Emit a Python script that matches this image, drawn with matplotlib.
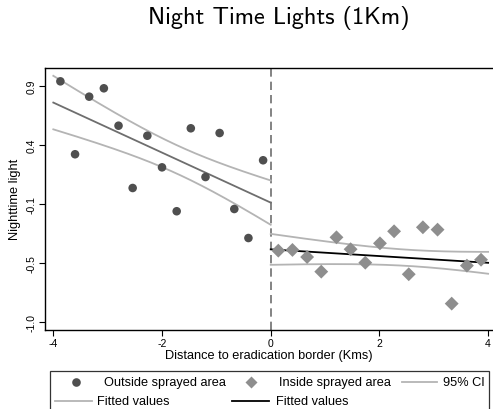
import numpy as np
import matplotlib
matplotlib.use("Agg")
import matplotlib.pyplot as plt
from matplotlib.lines import Line2D
from matplotlib.patches import Rectangle

plt.rcParams['font.family'] = ['Liberation Sans', 'DejaVu Sans']

# ---- data ----
out_x = [-3.87, -3.60, -3.34, -3.07, -2.80, -2.54, -2.27, -2.00, -1.73, -1.47, -1.20, -0.94, -0.67, -0.41, -0.14]
out_y = [0.937, 0.319, 0.807, 0.878, 0.561, 0.033, 0.476, 0.208, -0.164, 0.539, 0.126, 0.499, -0.145, -0.391, 0.268]
in_x = [0.14, 0.40, 0.67, 0.93, 1.21, 1.47, 1.74, 2.01, 2.27, 2.54, 2.80, 3.07, 3.33, 3.61, 3.87]
in_y = [-0.498, -0.492, -0.552, -0.676, -0.385, -0.486, -0.600, -0.436, -0.334, -0.698, -0.300, -0.320, -0.947, -0.625, -0.575]

# fitted lines (intercept at 0, slope) and CI half-width params sqrt(a + b*(x-c)^2)
left_fit = (-0.091, -0.212)
right_fit = (-0.487, -0.0285)
left_ci = (0.0145, 0.00707, -1.714)
right_ci = (0.0047, 0.0019, 2.566)
left_range = (-4.0, 0.0)
right_range = (0.0, 4.0)

ytick_pos = [0.9, 0.4, -0.1, -0.6, -1.1]
ytick_lab = ["0.9", "0.4", "-0.1", "-0.5", "-1.0"]
xtick_pos = [-4, -2, 0, 2, 4]
xtick_lab = ["-4", "-2", "0", "2", "4"]

W, H = 493, 410
fig = plt.figure(figsize=(W / 100, H / 100), dpi=100)
ax = fig.add_axes([45 / W, 1 - 330.7 / H, (W - 45) / W, (330.7 - 69) / H])

ci_col = '#b4b4b4'
left_col = '#6e6e6e'

def draw_fit(rng, fit, ci, col):
    xs = np.linspace(rng[0], rng[1], 200)
    yh = fit[0] + fit[1] * xs
    hw = np.sqrt(ci[0] + ci[1] * (xs - ci[2]) ** 2)
    ax.plot(xs, yh + hw, color=ci_col, lw=1.3, zorder=2)
    ax.plot(xs, yh - hw, color=ci_col, lw=1.3, zorder=2)
    ax.plot(xs, yh, color=col, lw=1.3, zorder=3)

draw_fit(left_range, left_fit, left_ci, left_col)
draw_fit(right_range, right_fit, right_ci, 'black')

ax.scatter(out_x, out_y, s=38, marker='o', color='#4f4f4f', edgecolors='none', zorder=4)
ax.scatter(in_x, in_y, s=50, marker='D', color='#8e8e8e', edgecolors='none', zorder=4)

ax.axvline(0, color='#6e6e6e', lw=1.2, ls=(0, (5, 3)), zorder=1)

ax.set_xlim(-4.153, 4.09)
ax.set_ylim(-1.168, 1.05)
ax.set_yticks(ytick_pos)
ax.set_yticklabels(ytick_lab, rotation=90, va='center', fontsize=7.5)
ax.set_xticks(xtick_pos)
ax.set_xticklabels(xtick_lab, fontsize=7.5)
ax.tick_params(length=4, width=0.8, pad=2)
ax.spines['right'].set_visible(False)
for s in ['left', 'top', 'bottom']:
    ax.spines[s].set_linewidth(1.0)
ax.set_xlabel("Distance to eradication border (Kms)", fontsize=9.2, labelpad=1)
ax.set_ylabel("Nighttime light", fontsize=9.2, labelpad=4)

fig.text(279 / W, 1 - 18 / H, 'Night Time Lights (1Km)', family='cmss10',
         ha='center', va='center', fontsize=17.5)

# ---- legend (manual) ----
def fx(px):
    return px / W

def fy(py):
    return 1 - py / H

fig.add_artist(Rectangle((fx(50), fy(415)), fx(489) - fx(50), fy(372.3) - fy(415),
                         transform=fig.transFigure, fill=False, edgecolor='#333333', lw=0.9))
r1, r2 = 383.3, 401.7
fs = 9.2
fig.add_artist(Line2D([fx(76)], [fy(r1)], marker='o', ms=6.2, color='#4f4f4f', mec='none', transform=fig.transFigure))
fig.text(fx(104), fy(r1), "Outside sprayed area", fontsize=fs, va='center')
fig.add_artist(Line2D([fx(251)], [fy(r1)], marker='D', ms=6.2, color='#8e8e8e', mec='none', transform=fig.transFigure))
fig.text(fx(279), fy(r1), "Inside sprayed area", fontsize=fs, va='center')
fig.add_artist(Line2D([fx(402), fx(437)], [fy(r1), fy(r1)], color=ci_col, lw=1.3, transform=fig.transFigure))
fig.text(fx(443), fy(r1), "95% CI", fontsize=fs, va='center')
fig.add_artist(Line2D([fx(55), fx(92)], [fy(r2), fy(r2)], color=ci_col, lw=1.3, transform=fig.transFigure))
fig.text(fx(97), fy(r2), "Fitted values", fontsize=fs, va='center')
fig.add_artist(Line2D([fx(232), fx(269)], [fy(r2), fy(r2)], color='black', lw=1.3, transform=fig.transFigure))
fig.text(fx(276), fy(r2), "Fitted values", fontsize=fs, va='center')

fig.savefig("out.png", dpi=100)
